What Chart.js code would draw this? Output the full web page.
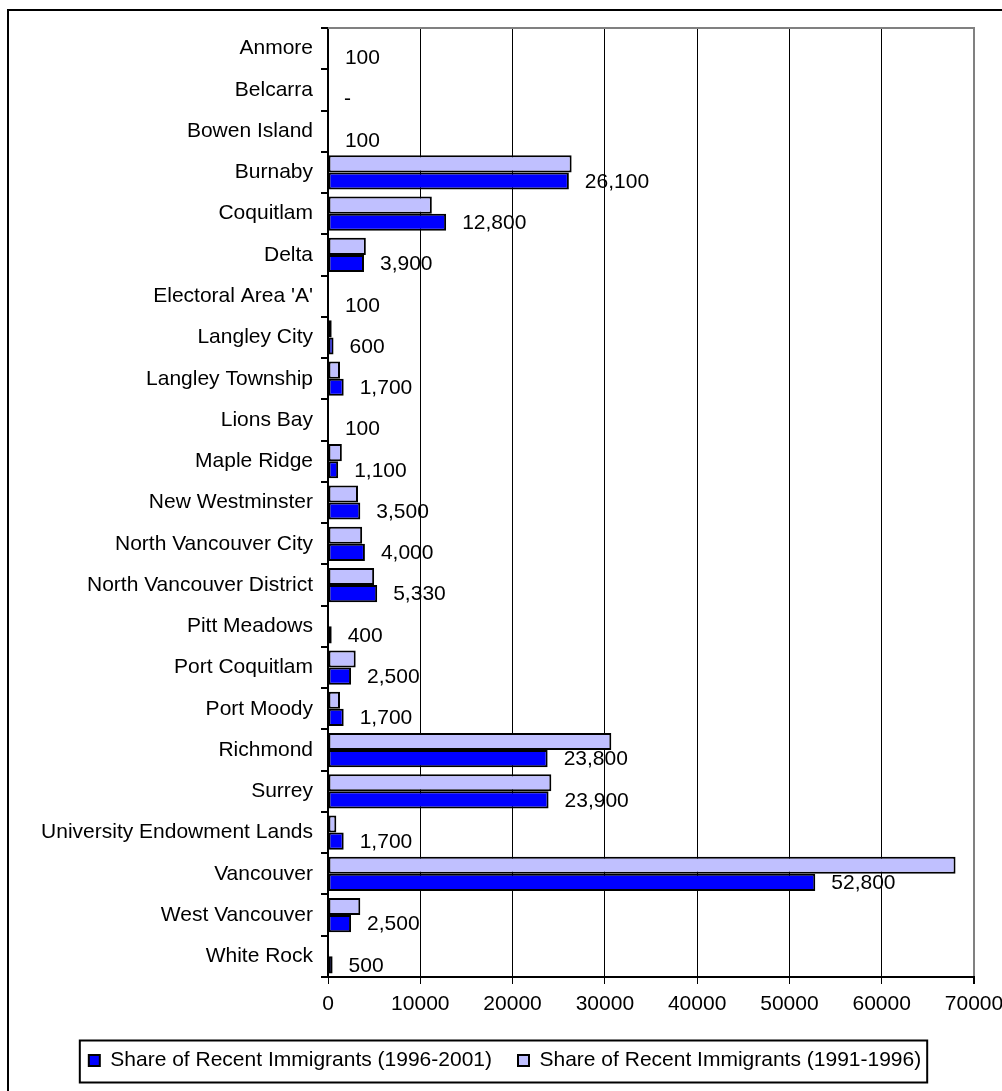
<!DOCTYPE html>
<html>
<head>
<meta charset="utf-8">
<script src="https://cdn.jsdelivr.net/npm/chart.js@4.4.1/dist/chart.umd.min.js"></script>
<style>
  body { margin: 0; background: #fff; }
  #wrap { width: 1002px; height: 1091px; position: relative; }
</style>
</head>
<body>
<div id="wrap"><canvas id="immigrantsChart"></canvas></div>
<script>
const municipalities = [
    'Anmore', 'Belcarra', 'Bowen Island', 'Burnaby', 'Coquitlam', 'Delta',
    "Electoral Area 'A'", 'Langley City', 'Langley Township', 'Lions Bay',
    'Maple Ridge', 'New Westminster', 'North Vancouver City',
    'North Vancouver District', 'Pitt Meadows', 'Port Coquitlam', 'Port Moody',
    'Richmond', 'Surrey', 'University Endowment Lands', 'Vancouver',
    'West Vancouver', 'White Rock'
];

// 1996-2001 (dark bars, labelled)
const recent9601 = [100, 0, 100, 26100, 12800, 3900, 100, 600, 1700, 100, 1100, 3500,
    4000, 5330, 400, 2500, 1700, 23800, 23900, 1700, 52800, 2500, 500];

// 1991-1996 (light bars)
const recent9196 = [0, 0, 0, 26400, 11250, 4100, 0, 400, 1300, 0, 1500, 3250,
    3700, 5000, 0, 3000, 1300, 30700, 24200, 900, 68000, 3500, 0];

const xMin = 0;
const xMax = 70000;
const xStep = 10000;

const FONT = { family: '"Liberation Sans", Arial, sans-serif', size: 21 };

// labels to the right of the dark bars
const valueLabels = {
    id: 'valueLabels',
    afterDatasetsDraw(chart) {
        const ctx = chart.ctx;
        const meta = chart.getDatasetMeta(1);
        ctx.save();
        ctx.font = '21px "Liberation Sans", Arial, sans-serif';
        ctx.fillStyle = '#000';
        ctx.textBaseline = 'middle';
        meta.data.forEach((bar, i) => {
            const v = recent9601[i];
            const txt = v === 0 ? '-' : v.toLocaleString('en-US');
            ctx.fillText(txt, bar.x + 16, bar.y + 1);
        });
        ctx.restore();
    }
};

// grey top edge of the plot, legend box, outer frame
const frames = {
    id: 'frames',
    afterDraw(chart) {
        const ctx = chart.ctx;
        const { left, right, top } = chart.chartArea;
        ctx.save();
        ctx.strokeStyle = '#808080';
        ctx.lineWidth = 2;
        ctx.beginPath();
        ctx.moveTo(left, top);
        ctx.lineTo(right + 1, top);
        ctx.stroke();

        const hb = chart.legend.legendHitBoxes;
        if (hb && hb.length) {
            const last = hb[hb.length - 1];
            const cy = hb[0].top + hb[0].height / 2;
            const x0 = hb[0].left - 9;
            ctx.strokeStyle = '#000';
            ctx.strokeRect(x0, cy - 20, last.left + last.width + 6 - x0, 42);
        }

        ctx.strokeStyle = '#000';
        ctx.strokeRect(8, 10, 1020, 1100);
        ctx.restore();
    }
};

new Chart(document.getElementById('immigrantsChart'), {
    type: 'bar',
    data: {
        labels: municipalities,
        datasets: [{
            label: 'Share of Recent Immigrants (1991-1996)',
            data: recent9196,
            backgroundColor: '#C0C0FF',
            borderColor: '#000',
            borderWidth: 2,
            borderSkipped: false
        }, {
            label: 'Share of Recent Immigrants (1996-2001)',
            data: recent9601,
            backgroundColor: '#0000FF',
            borderColor: '#000',
            borderWidth: 2,
            borderSkipped: false
        }]
    },
    options: {
        indexAxis: 'y',
        responsive: true,
        maintainAspectRatio: false,
        animation: false,
        categoryPercentage: 0.83,
        barPercentage: 1,
        layout: { padding: { left: 36, right: 28, top: 28, bottom: 10 } },
        plugins: {
            legend: {
                position: 'bottom',
                reverse: true,
                labels: { boxWidth: 11, boxHeight: 11, padding: 26, color: '#000', font: FONT }
            },
            tooltip: { enabled: false }
        },
        scales: {
            x: {
                min: xMin,
                max: xMax,
                ticks: { stepSize: xStep, callback: v => String(v), color: '#000', font: FONT, padding: 8, maxRotation: 0 },
                grid: {
                    color: c => c.tick && c.tick.value === xMax ? '#808080' : '#000',
                    lineWidth: c => c.tick && c.tick.value === xMax ? 2 : 1,
                    tickColor: '#000',
                    tickLength: 7
                },
                border: { color: '#000', width: 2 },
                afterFit: s => { s.height = 47; s.paddingRight = 0; s.paddingLeft = 0; }
            },
            y: {
                ticks: { color: '#000', font: FONT, padding: 8, autoSkip: false },
                grid: { drawOnChartArea: false, color: '#000', lineWidth: 2, tickLength: 7, offset: true },
                border: { color: '#000', width: 2 },
                afterFit: s => { s.width = 292; }
            }
        }
    },
    plugins: [valueLabels, frames]
});
</script>
</body>
</html>
